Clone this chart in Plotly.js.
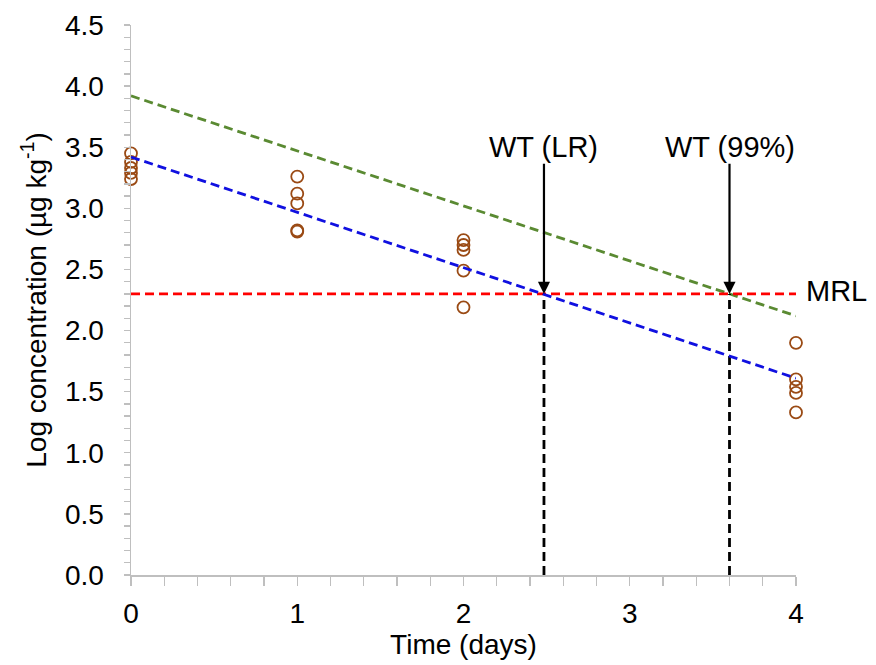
<!DOCTYPE html>
<html>
<head>
<meta charset="utf-8">
<script src="https://cdn.plot.ly/plotly-3.0.1.min.js"></script>
<style>html,body{margin:0;padding:0;background:#fff;}#chart{width:876px;height:665px;}</style>
</head>
<body>
<div id="chart"></div>
<script>
// Observed residues (log µg/kg) by day
const days = [0,0,0,0,0, 1,1,1,1,1, 2,2,2,2,2, 4,4,4,4,4];
const logConc = [3.45,3.38,3.33,3.29,3.24, 3.26,3.12,3.04,2.82,2.81, 2.74,2.70,2.66,2.49,2.19, 1.90,1.60,1.54,1.49,1.33];
// Fitted lines (endpoints at day 0 and day 4)
const lineDays = [0, 4];
const regressionLR = [3.42, 1.61];
const upper99 = [3.92, 2.12];
const mrl = 2.30;
const wtLR = 2.484;
const wt99 = 3.60;
const xTickVals = [0,1,2,3,4];
const yTickVals = [0,0.5,1,1.5,2,2.5,3,3.5,4,4.5];
const yTickText = ['0.0','0.5','1.0','1.5','2.0','2.5','3.0','3.5','4.0','4.5'];

const font = 'Liberation Sans, Arial, sans-serif';
const dash = '9px,5px';
const traces = [
  {x: lineDays, y: upper99, mode:'lines', line:{color:'#5a8a32', width:2.8, dash:dash}, hoverinfo:'skip'},
  {x: lineDays, y: [mrl, mrl], mode:'lines', line:{color:'#ff0000', width:2.8, dash:dash}, hoverinfo:'skip'},
  {x: [wtLR, wtLR], y: [0, mrl], mode:'lines', line:{color:'#000000', width:2.8, dash:dash}, hoverinfo:'skip'},
  {x: [wt99, wt99], y: [0, mrl], mode:'lines', line:{color:'#000000', width:2.8, dash:dash}, hoverinfo:'skip'},
  {x: days, y: logConc, mode:'markers', marker:{symbol:'circle-open', size:12, color:'#9a4a14', line:{width:1.8, color:'#9a4a14'}}, cliponaxis:false},
  {x: lineDays, y: regressionLR, mode:'lines', line:{color:'#1010e0', width:2.8, dash:dash}, hoverinfo:'skip'}
];

const layout = {
  width: 876, height: 665,
  margin: {l:131, r:80, t:25, b:90},
  paper_bgcolor:'#fff', plot_bgcolor:'#fff',
  showlegend:false,
  font:{family:font, color:'#000', size:28},
  xaxis:{
    range:[0,4], showgrid:false, zeroline:false, showline:true, linecolor:'#bfbfbf', linewidth:1.5,
    tickvals:xTickVals, ticks:'outside', ticklen:9, tickcolor:'#bfbfbf', tickwidth:1.3,
    minor:{dtick:0.2, ticks:'outside', ticklen:9, tickcolor:'#bfbfbf', tickwidth:1.3, showgrid:false},
    tickfont:{size:28}, ticklabelstandoff:4,
    title:{text:'Time (days)', font:{size:28}, standoff:6}
  },
  yaxis:{
    range:[0,4.5], showgrid:false, zeroline:false, showline:true, linecolor:'#bfbfbf', linewidth:1.5,
    tickvals:yTickVals, ticktext:yTickText, ticks:'outside', ticklen:6, tickcolor:'#bfbfbf', tickwidth:1.3,
    minor:{dtick:0.1, ticks:'outside', ticklen:6, tickcolor:'#bfbfbf', tickwidth:1.3, showgrid:false},
    tickfont:{size:28}, ticklabelstandoff:14,
    title:{text:'Log concentration (µg kg<sup>-1</sup>)', font:{size:28}, standoff:10}
  },
  annotations:[
    {x:wtLR, y:mrl, ax:wtLR, ay:3.50, xref:'x', yref:'y', axref:'x', ayref:'y', text:'WT (LR)', font:{size:29}, showarrow:true, arrowhead:2, arrowsize:1.1, arrowwidth:2.2, arrowcolor:'#000', borderpad:0},
    {x:wt99, y:mrl, ax:wt99, ay:3.50, xref:'x', yref:'y', axref:'x', ayref:'y', text:'WT (99%)', font:{size:29}, showarrow:true, arrowhead:2, arrowsize:1.1, arrowwidth:2.2, arrowcolor:'#000', borderpad:0},
    {x:1.012, y:mrl+0.02, xref:'paper', yref:'y', text:'MRL', showarrow:false, xanchor:'left', font:{size:29}}
  ]
};
Plotly.newPlot('chart', traces, layout, {displayModeBar:false, staticPlot:true});
</script>
</body>
</html>
